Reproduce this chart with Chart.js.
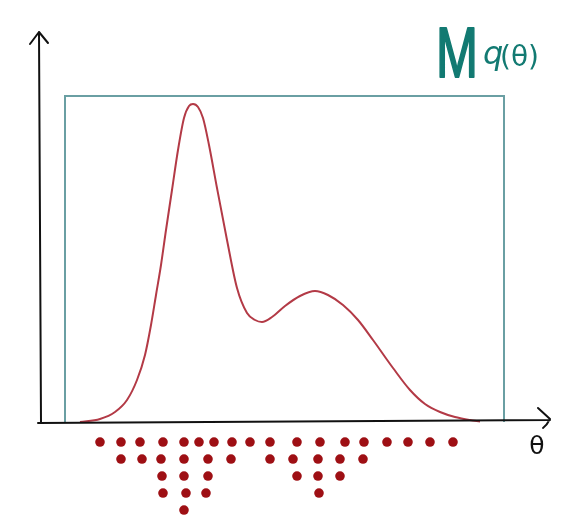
<!DOCTYPE html>
<html>
<head>
<meta charset="utf-8">
<script src="https://cdn.jsdelivr.net/npm/chart.js@4"></script>
<style>
  body { margin: 0; background: #fff; }
  canvas { display: block; }
</style>
</head>
<body>
<canvas id="sketch" width="563" height="532"></canvas>
<script>
// target density p(theta)
const thetaCurve = [4.0, 6.0, 7.5, 8.7, 9.7, 10.5, 11.1, 11.6, 12.1, 12.6, 13.2, 13.8, 14.4, 14.9, 15.3, 15.8, 16.3, 16.9, 17.7, 18.7, 19.7, 20.7, 21.5, 22.2, 23.2, 24.5, 26.0, 27.5, 28.8, 30.3, 31.8, 33.3, 35.3, 37.0, 38.5, 40.0, 41.5, 43.0, 44.0];
const density = [0, 0.3, 1.0, 2.2, 4.2, 6.7, 9.7, 12.7, 15.7, 19.2, 23.2, 27.2, 30.4, 31.6, 31.8, 31.5, 30.4, 27.7, 23.4, 18.2, 13.4, 10.9, 10.2, 10.0, 10.5, 11.6, 12.6, 13.1, 12.7, 11.7, 10.2, 8.2, 5.4, 3.2, 1.8, 1.0, 0.5, 0.2, 0.05];

// envelope M q(theta): uniform proposal scaled by M
const envTheta = [2.5, 2.5, 46.4, 46.4];
const envHeight = [0, 32.6, 32.6, 0];

// accepted samples, stacked as a dot plot (stack level 1 = first row)
const sampleTheta = [
  6.0, 8.1, 10.0, 12.3, 14.4, 15.9, 17.4, 19.2, 21.0, 23.0, 25.7, 28.0, 30.5, 32.4, 34.7, 36.8, 39.0, 41.3,
  8.1, 10.2, 12.1, 14.4, 16.8, 19.1, 23.0, 25.3, 27.8, 30.0, 32.3,
  12.2, 14.4, 16.8, 25.7, 27.8, 30.0,
  12.3, 14.6, 16.6, 27.9,
  14.4
];
const sampleLevel = [
  1, 1, 1, 1, 1, 1, 1, 1, 1, 1, 1, 1, 1, 1, 1, 1, 1, 1,
  2, 2, 2, 2, 2, 2, 2, 2, 2, 2, 2,
  3, 3, 3, 3, 3, 3,
  4, 4, 4, 4,
  5
];

const axesPlugin = {
  id: "sketchAxes",
  afterDatasetsDraw(chart) {
    const ctx = chart.ctx;
    const x = chart.scales.x;
    const y = chart.scales.y;
    const x0 = x.getPixelForValue(0);
    const y0 = y.getPixelForValue(0);
    const yTop = y.getPixelForValue(39);
    const xEnd = x.getPixelForValue(51);

    ctx.save();
    ctx.strokeStyle = "#111";
    ctx.lineWidth = 2;
    ctx.lineCap = "round";
    ctx.lineJoin = "round";

    // y axis with arrow
    ctx.beginPath();
    ctx.moveTo(x0 + 1, y0 + 1);
    ctx.lineTo(x0 - 1, yTop);
    ctx.moveTo(x0 - 10, yTop + 12);
    ctx.lineTo(x0 - 1, yTop);
    ctx.lineTo(x0 + 8, yTop + 11);
    ctx.stroke();

    // x axis with arrow
    ctx.beginPath();
    ctx.moveTo(x0 - 2, y0 + 1);
    ctx.lineTo(xEnd, y0 - 2);
    ctx.moveTo(xEnd - 12, y0 - 14);
    ctx.lineTo(xEnd, y0 - 3);
    ctx.quadraticCurveTo(xEnd - 3, y0 + 3, xEnd - 7, y0 + 6);
    ctx.stroke();

    // theta label under the arrow
    ctx.fillStyle = "#111";
    ctx.font = "25px 'DejaVu Sans'";
    ctx.textAlign = "center";
    ctx.textBaseline = "alphabetic";
    ctx.fillText("θ", xEnd - 13, y0 + 32);

    // M q(theta) label
    ctx.fillStyle = "#127a72";
    ctx.strokeStyle = "#127a72";
    ctx.save();
    ctx.translate(436, 77);
    ctx.scale(0.72, 1);
    ctx.textAlign = "left";
    ctx.font = "70px 'Liberation Sans'";
    ctx.lineWidth = 2;
    ctx.fillText("M", 0, 0);
    ctx.strokeText("M", 0, 0);
    ctx.restore();
    ctx.textAlign = "left";
    ctx.font = "italic 32px 'DejaVu Sans'";
    ctx.fillText("q", 483, 64);
    ctx.font = "28px 'DejaVu Sans'";
    ctx.fillText("(θ)", 500, 66);
    ctx.restore();
  }
};

new Chart(document.getElementById("sketch").getContext("2d"), {
  type: "line",
  data: {
    datasets: [{
      label: "M q(θ)",
      data: envTheta.map((t, i) => ({ x: t, y: envHeight[i] })),
      borderColor: "#6a9fa3",
      borderWidth: 2,
      pointRadius: 0,
      tension: 0,
      fill: false,
    }, {
      label: "p(θ)",
      data: thetaCurve.map((t, i) => ({ x: t, y: density[i] })),
      borderColor: "#b33a46",
      borderWidth: 2,
      pointRadius: 0,
      cubicInterpolationMode: "monotone",
      fill: false,
    }, {
      type: "scatter",
      label: "samples",
      yAxisID: "y2",
      data: sampleTheta.map((t, i) => ({ x: t, y: sampleLevel[i] })),
      backgroundColor: "#9e0f14",
      borderWidth: 0,
      pointRadius: 4.8,
    }, ],
  },
  options: {
    responsive: false,
    animation: false,
    layout: { padding: 0, autoPadding: false },
    plugins: {
      legend: { display: false },
      tooltip: { enabled: false },
    },
    scales: {
      x: { type: "linear", min: -4, max: 52.3, display: false },
      y: { type: "linear", min: -11, max: 42.2, display: false },
      y2: { type: "linear", reverse: true, min: -25, max: 6.29, display: false },
    },
  },
  plugins: [axesPlugin],
});
</script>
</body>
</html>
